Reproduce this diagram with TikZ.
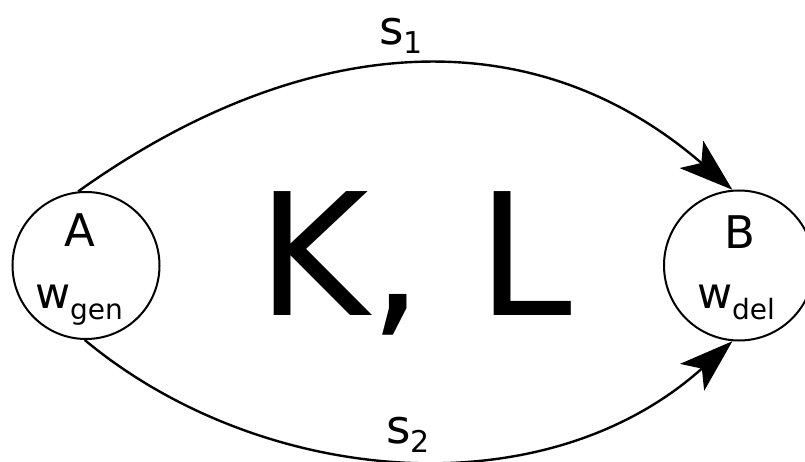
\documentclass[tikz,border=0pt]{standalone}
\usepackage{fontspec}
\setmainfont{DejaVu Sans}
\usetikzlibrary{arrows.meta}
\tikzset{
  state/.style={circle, draw, line width=2pt, minimum size=147pt, inner sep=0pt},
  lbl/.style={anchor=base, inner sep=0pt},
  conn/.style={line width=2.4pt, -{Stealth[length=54pt,width=36pt,inset=13pt]}}
}
\newcommand{\fs}[1]{\fontsize{#1}{#1}\selectfont}
\begin{document}
\begin{tikzpicture}[x=1pt,y=-1pt]
\useasboundingbox (0,0) rectangle (805,462);
\node[state] (A) at (86,265.5) {};
\node[state, minimum size=150pt] (B) at (739,265.5) {};
\node[lbl] (At) at (80,247) {\fs{45}A};
\node[lbl] (Aw) at (79,308) {\fs{43}w\raisebox{-11pt}{\fs{28}gen}};
\node[lbl] (Bt) at (740,248) {\fs{45}B};
\node[lbl] (Bw) at (736,308) {\fs{43}w\raisebox{-11pt}{\fs{28}del}};
\node[lbl] (KL) at (415,315) {\fs{170}K, L};
\node[lbl] (s1) at (401,45) {\fs{47}s\raisebox{-9pt}{\fs{30}1}};
\node[lbl] (s2) at (408,443) {\fs{47}s\raisebox{-9pt}{\fs{30}2}};
\coordinate (a1) at (A.96);
\coordinate (b1) at (B.95);
\coordinate (a2) at (A.-91);
\coordinate (b2) at (B.-95);
\draw[conn] (a1) .. controls (287,42) and (521,7) .. (b1);
\draw[conn] (a2) .. controls (259,485) and (542,512) .. (b2);
\end{tikzpicture}
\end{document}
